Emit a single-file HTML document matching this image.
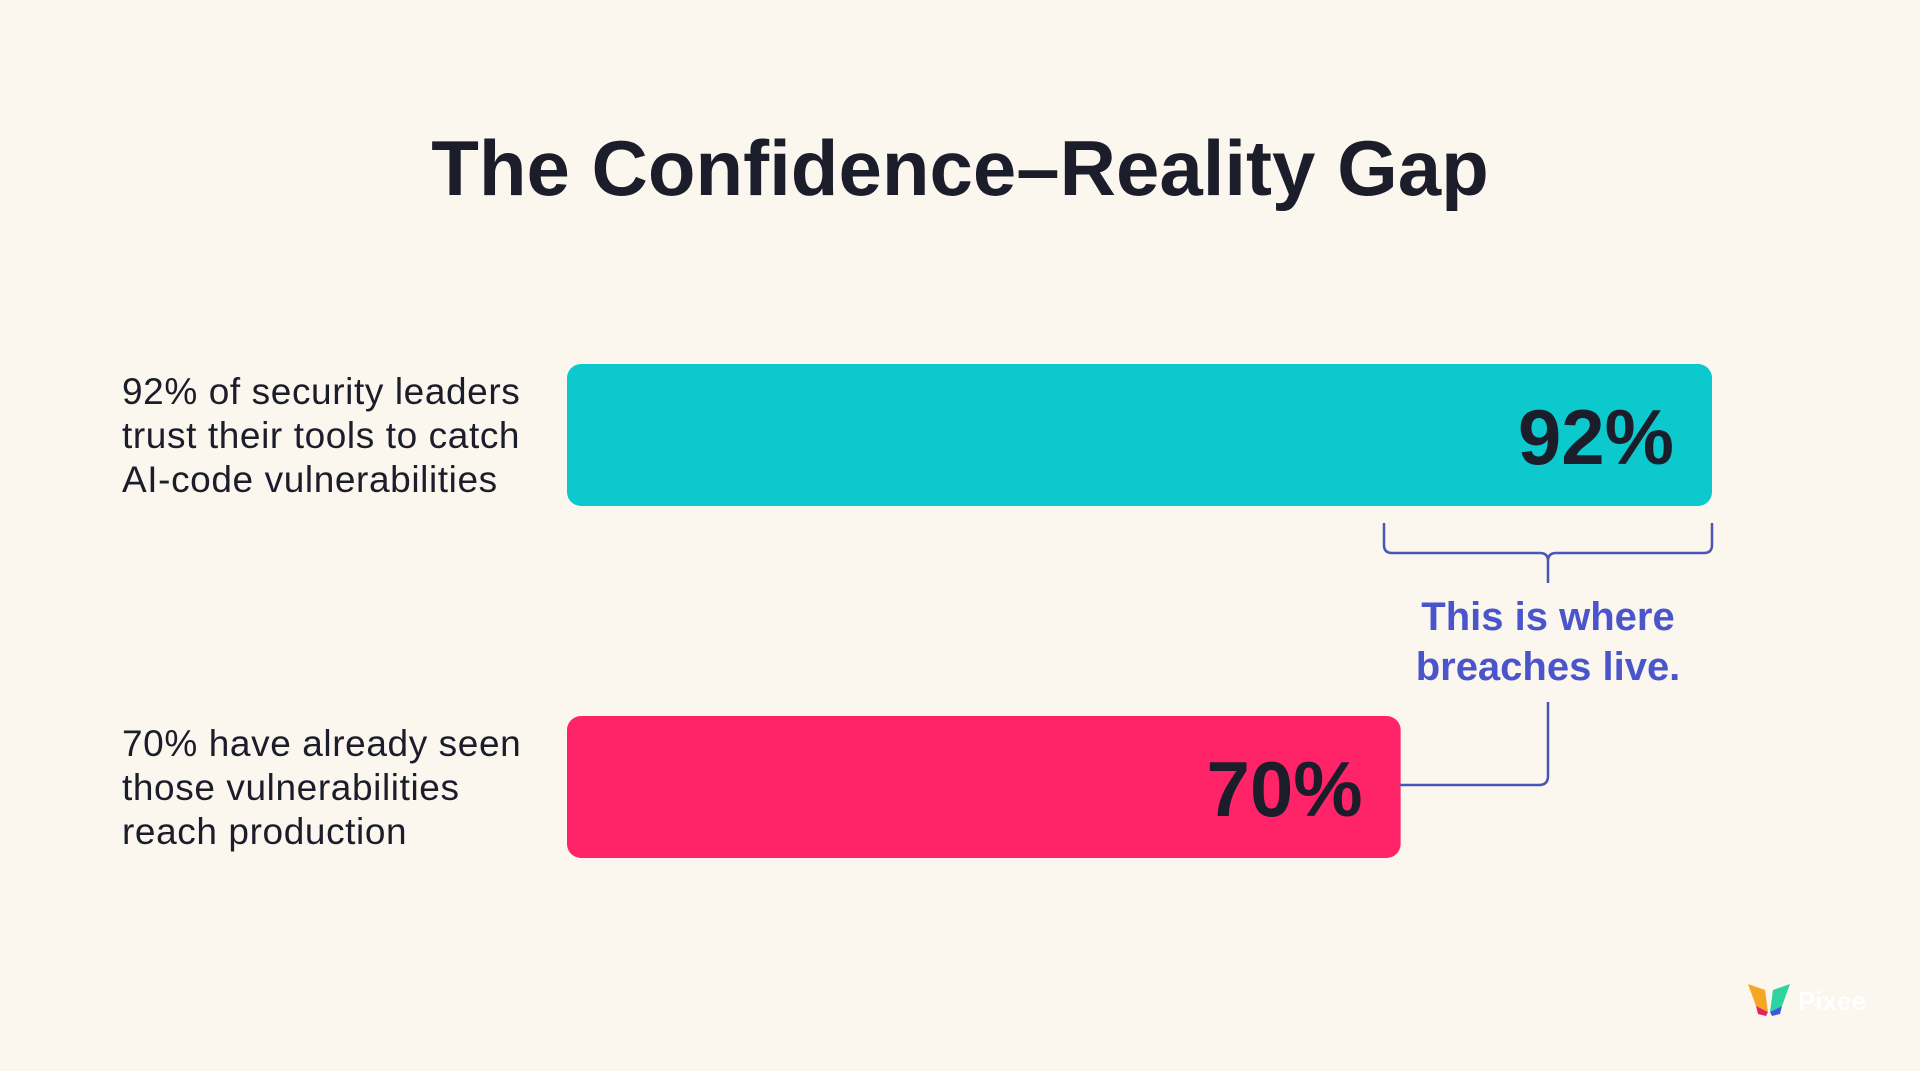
<!DOCTYPE html>
<html><head><meta charset="utf-8"><style>
html,body{margin:0;padding:0;background:#fbf6ee;}
svg{display:block;font-family:"Liberation Sans",sans-serif;}
</style></head><body>
<svg id="chart" width="1920" height="1071" viewBox="0 0 1920 1071">
<rect width="1920" height="1071" fill="#fbf6ee"/>
<text x="960" y="195" text-anchor="middle" font-size="78" font-weight="bold" fill="#1b1d2a">The Confidence–Reality Gap</text>
<g id="bars"></g>
<g fill="none" stroke="#4a55b8" stroke-width="2.5">
<path d="M1384 523 V545 Q1384 553 1392 553 H1540 Q1548 553 1548 561 V583 M1548 561 Q1548 553 1556 553 H1704 Q1712 553 1712 545 V523"/>
<path d="M1548 702 V776 Q1548 785 1539 785 H1400"/>
</g>
<text x="1548" y="630" text-anchor="middle" font-size="40" font-weight="bold" fill="#4a55cc">This is where</text>
<text x="1548" y="680" text-anchor="middle" font-size="40" font-weight="bold" fill="#4a55cc">breaches live.</text>
<g>
<path d="M1748 984 L1765 990 L1768 1012 L1756 1006 Z" fill="#f5a623"/>
<path d="M1790 984 L1773 990 L1770 1012 L1782 1006 Z" fill="#2ed3a0"/>
<path d="M1756 1006 L1768 1012 L1766 1016 L1758 1014 Z" fill="#e0245e"/>
<path d="M1782 1006 L1770 1012 L1772 1016 L1780 1014 Z" fill="#3b5bdb"/>
<text x="1798" y="1010" font-size="26" font-weight="bold" fill="#ffffff">Pixee</text>
</g>
</svg>
<script>
const categories = ["92% of security leaders|trust their tools to catch|AI-code vulnerabilities","70% have already seen|those vulnerabilities|reach production"];
const values = [92, 70];
const valueLabels = ["92%", "70%"];
const colors = ["#0bc9cc", "#ff2468"];
const ns = "http://www.w3.org/2000/svg";
const d0 = 11.1, d1 = 92, r0 = 567, r1 = 1712;
function x(v){ return r0 + (v - d0) / (d1 - d0) * (r1 - r0); }
const rowTop = [364, 716], barH = 142;
const g = document.getElementById('bars');
values.forEach((v, i) => {
  const r = document.createElementNS(ns, 'rect');
  r.setAttribute('x', x(d0)); r.setAttribute('y', rowTop[i]);
  r.setAttribute('width', x(v) - x(d0)); r.setAttribute('height', barH);
  r.setAttribute('rx', 14); r.setAttribute('fill', colors[i]);
  
  
  g.appendChild(r);
  const t = document.createElementNS(ns, 'text');
  t.setAttribute('x', x(v) - 38); t.setAttribute('y', rowTop[i] + 100);
  t.setAttribute('text-anchor', 'end'); t.setAttribute('font-size', 78);
  t.setAttribute('font-weight', 'bold'); t.setAttribute('fill', '#1b1d2a');
  t.textContent = valueLabels[i];
  
  
  g.appendChild(t);
  categories[i].split('|').forEach((line, j) => {
    const c = document.createElementNS(ns, 'text');
    c.setAttribute('x', 122); c.setAttribute('y', rowTop[i] + 40 + j * 44);
    c.setAttribute('font-size', 37); c.setAttribute('letter-spacing', '0.6');
    c.setAttribute('fill', '#1b1d2a');
    c.textContent = line;
    
    
    g.appendChild(c);
  });
});
</script>
</body></html>
